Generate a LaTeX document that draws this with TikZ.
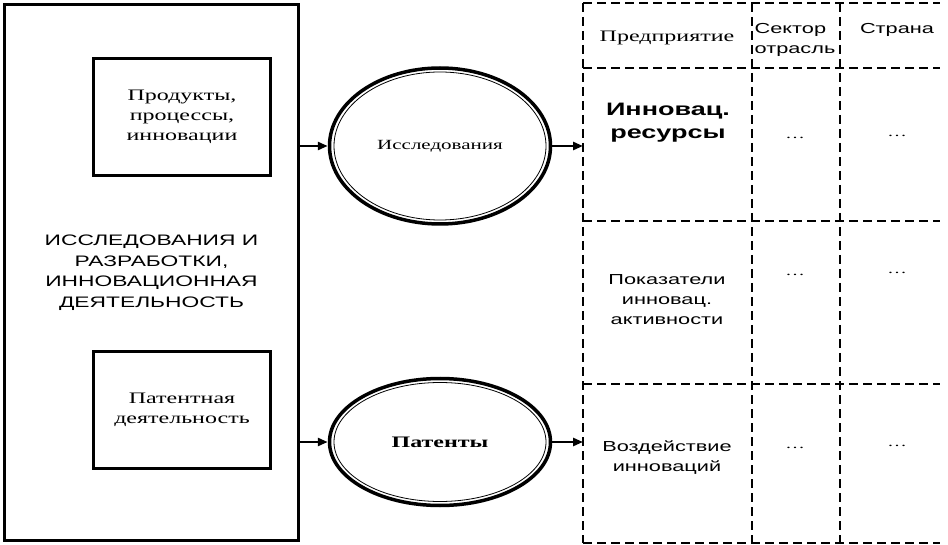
\documentclass[tikz,border=0pt]{standalone}
\usepackage{fontspec}
\setmainfont{Liberation Serif}[FakeStretch=1.5]
\newfontfamily\sansfont{Liberation Sans}[FakeStretch=1.5]
\usetikzlibrary{arrows.meta,shapes.geometric}
\tikzset{
  rm/.style={font=\fontsize{16}{20}\selectfont,align=center},
  sf/.style={font=\sansfont\fontsize{14.5}{20}\selectfont,align=center},
  box/.style={draw,line width=3.5pt,minimum width=177pt,minimum height=117pt,rm},
  oval/.style={ellipse,draw,line width=3.5pt,minimum width=221pt,inner sep=0pt},
  arr/.style={line width=2.5pt,-{Triangle[length=10pt,width=8pt]}},
  tabline/.style={line width=1.5pt,dash pattern=on 9pt off 5pt},
  dots/.style={font=\fontsize{13}{13}\selectfont}
}
\begin{document}
\begin{tikzpicture}[x=1pt,y=-1pt]
  \useasboundingbox (0,0) rectangle (948,545);
  % left block
  \node[draw,line width=3.5pt,minimum width=294pt,minimum height=536pt,
        sf,font=\sansfont\fontsize{15.2}{20.5}\selectfont] (rd) at (151.5,272.5)
        {ИССЛЕДОВАНИЯ И\\РАЗРАБОТКИ,\\ИННОВАЦИОННАЯ\\ДЕЯТЕЛЬНОСТЬ};
  \node[box] (prod) at (182,117) {Продукты,\\процессы,\\инновации};
  \node[box] (pat) at (182,410) {Патентная\\деятельность};
  % ovals
  \node[oval,minimum height=156pt,rm,font=\fontsize{14}{18}\selectfont] (res) at (440,146) {Исследования};
  \node[oval,minimum height=127pt,rm,font=\fontsize{16}{20}\selectfont\bfseries] (pts) at (440,442) {Патенты};
  \draw[line width=0.8pt] (res.center) ellipse [x radius=106pt,y radius=74pt];
  \draw[line width=0.8pt] (pts.center) ellipse [x radius=106pt,y radius=59.5pt];
  % table
  \foreach \y in {3,68,221,384,543} \draw[tabline] (583,\y) -- (940,\y);
  \foreach \x in {583,752,840} \draw[tabline] (\x,3) -- (\x,543);
  \coordinate (t1) at (583,146);
  \coordinate (t2) at (583,442);
  \node[rm] (ent) at (667,38) {Предприятие};
  \node[sf,align=left] (sec) at (795,40) {Сектор\\отрасль};
  \node[sf] (cty) at (897,30) {Страна};
  \node[sf,font=\sansfont\fontsize{18}{23}\selectfont\bfseries] (ir) at (668,123) {Инновац.\\ресурсы};
  \node[sf] (ia) at (667,300) {Показатели\\инновац.\\активности};
  \node[sf] (ii) at (667,458) {Воздействие\\инноваций};
  \node[dots] at (795,138) {\dots};  \node[dots] at (897,136) {\dots};
  \node[dots] at (795,275) {\dots};  \node[dots] at (897,273) {\dots};
  \node[dots] at (795,448) {\dots};  \node[dots] at (897,446) {\dots};
  % arrows
  \draw[arr] (rd.east |- res) -- (res);
  \draw[arr] (rd.east |- pts) -- (pts);
  \draw[arr] (res) -- (t1);
  \draw[arr] (pts) -- (t2);
\end{tikzpicture}
\end{document}
